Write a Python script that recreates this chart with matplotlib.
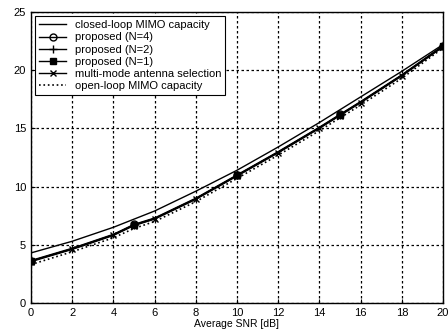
import matplotlib
matplotlib.use("Agg")
import matplotlib.pyplot as plt
import numpy as np

snr = [0, 2, 4, 5, 6, 8, 10, 12, 14, 15, 16, 18, 20]
closed_loop = [4.3, 5.3, 6.5, 7.2, 7.9, 9.6, 11.4, 13.4, 15.5, 16.6, 17.7, 19.9, 22.2]
prop_n4 = [3.65, 4.7, 5.9, 6.75, 7.3, 9.0, 11.0, 13.0, 15.1, 16.2, 17.3, 19.6, 22.1]
prop_n2 = [3.6, 4.65, 5.85, 6.7, 7.25, 8.95, 10.95, 12.95, 15.05, 16.15, 17.25, 19.55, 22.05]
prop_n1 = [3.6, 4.65, 5.85, 6.7, 7.25, 8.95, 10.95, 12.95, 15.05, 16.15, 17.25, 19.55, 22.05]
multimode = [3.55, 4.6, 5.8, 6.65, 7.2, 8.9, 10.9, 12.9, 15.0, 16.1, 17.2, 19.5, 22.0]
open_loop = [3.3, 4.4, 5.6, 6.4, 7.0, 8.7, 10.7, 12.7, 14.8, 15.9, 17.0, 19.3, 21.9]
marker_idx = [0, 3, 6, 9, 12]

plt.rcParams['font.family'] = ['Liberation Sans', 'DejaVu Sans']
fig = plt.figure(figsize=(4.48, 3.35), dpi=100)
ax = fig.add_axes([0.069, 0.0955, 0.92, 0.869])

ax.plot(snr, closed_loop, 'k-', lw=1.0, label='closed-loop MIMO capacity')
ax.plot(snr, prop_n4, 'k-', lw=1.0, marker='o', ms=5, mfc='none', markevery=marker_idx,
        label='proposed (N=4)')
ax.plot(snr, prop_n2, 'k-', lw=1.0, marker='+', ms=6, markevery=marker_idx,
        label='proposed (N=2)')
ax.plot(snr, prop_n1, 'k-', lw=1.0, marker='s', ms=5, mfc='k', markevery=marker_idx,
        label='proposed (N=1)')
ax.plot(snr, multimode, 'k-', lw=1.0, marker='x', ms=4, label='multi-mode antenna selection')
ax.plot(snr, open_loop, 'k:', lw=1.2, label='open-loop MIMO capacity')

ax.set_xlim(0, 20)
ax.set_ylim(0, 25)
ax.set_xticks(np.arange(0, 21, 2))
ax.set_yticks(np.arange(0, 26, 5))
ax.grid(True, color='k', linestyle=(0, (2, 2)), lw=0.9)
ax.tick_params(direction='in', labelsize=8, length=3)
ax.set_xlabel('Average SNR [dB]', fontsize=7.5, labelpad=1)
for s in ax.spines.values():
    s.set_linewidth(1.0)

leg = ax.legend(loc='upper left', fontsize=8, frameon=True, fancybox=False,
                edgecolor='k', handlelength=2.4, borderpad=0.35, labelspacing=0.2,
                borderaxespad=0.4, framealpha=1)
leg.get_frame().set_linewidth(0.8)

fig.savefig('out.png', dpi=100)
